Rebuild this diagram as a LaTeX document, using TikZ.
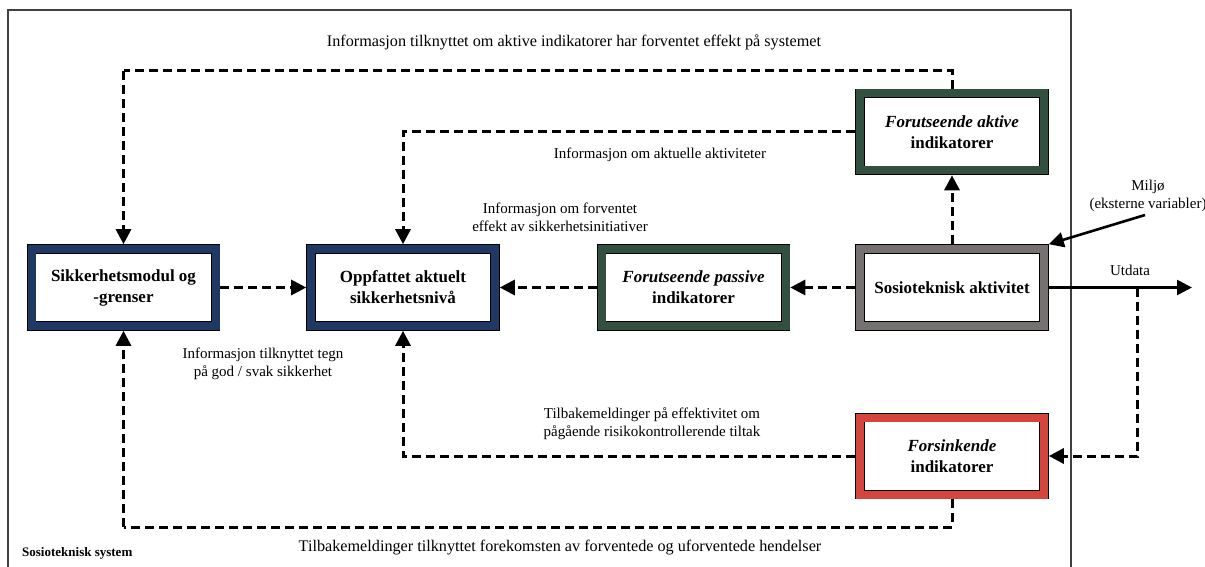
\documentclass[tikz,border=0pt]{standalone}
\usepackage{fontspec}
\setmainfont{Liberation Serif}
\usetikzlibrary{arrows.meta,calc}

\definecolor{navyband}{HTML}{1F3864}
\definecolor{greenband}{HTML}{31503F}
\definecolor{greyband}{HTML}{767171}
\definecolor{redband}{HTML}{D4463D}
\definecolor{framegrey}{HTML}{404040}

\tikzset{
  indbox/.style={rectangle, draw=black, line width=0.8pt, double=#1,
    double distance=8pt, fill=white, minimum width=184pt, minimum height=77pt,
    outer sep=4.8pt, inner sep=2pt, align=center,
    font=\fontsize{17}{21}\selectfont\bfseries},
  flow/.style={line width=3pt, dash pattern=on 9pt off 5pt,
    -{Triangle[length=15pt,width=15pt]}},
  flowplain/.style={line width=3pt, dash pattern=on 9pt off 5pt},
  solidarrow/.style={line width=2.6pt, -{Triangle[length=15pt,width=15pt]}},
  lbl/.style={font=\fontsize{15}{18}\selectfont, align=center, inner sep=0pt},
  widelbl/.style={font=\fontsize{16.2}{19}\selectfont, align=center, inner sep=0pt},
}

\begin{document}
\begin{tikzpicture}[x=1pt,y=-1pt]
  \useasboundingbox (0,0) rectangle (1205,567);
  \clip (0,0) rectangle (1205,567);

  % system boundary
  \draw[framegrey, line width=1.8pt] (8,600) -- (8,10) -- (1071,10) -- (1071,600);

  % blocks
  \node[indbox=navyband]  (smg)  at (123.5,287.5) {Sikkerhetsmodul og\\-grenser};
  \node[indbox=navyband]  (opp)  at (403,287.5)   {Oppfattet aktuelt\\sikkerhetsnivå};
  \node[indbox=greenband] (fp)   at (693.5,287.5) {\textit{Forutseende passive}\\indikatorer};
  \node[indbox=greyband]  (sa)   at (952,287.5)   {Sosioteknisk aktivitet};
  \node[indbox=greenband] (fa)   at (952,132)     {\textit{Forutseende aktive}\\indikatorer};
  \node[indbox=redband]   (fors) at (952,456)     {\textit{Forsinkende}\\indikatorer};

  % helper points
  \coordinate (toprail) at (0,71);
  \coordinate (botrail) at (0,527);
  \coordinate (tap)     at (1137,287.5);
  \coordinate (utend)   at (1192,287.5);
  \coordinate (env)     at (1145,215);

  % feedback and information flows
  \draw[flowplain] (fa.north) -- (fa.north |- toprail) -- (smg.north |- toprail);
  \draw[flow] (smg.north |- toprail) -- (smg.north);
  \draw[flow] (fa.west) -| (opp.north);
  \draw[flow] (sa.north) -- (fa.south);
  \draw[flow] (sa.west) -- (fp.east);
  \draw[flow] (fp.west) -- (opp.east);
  \draw[flow] (smg.east) -- (opp.west);
  \draw[flow] (tap) |- (fors.east);
  \draw[flow] (fors.west) -| (opp.south);
  \draw[flowplain] (fors.south) -- (fors.south |- botrail) -- (smg.south |- botrail);
  \draw[flow] (smg.south |- botrail) -- (smg.south);

  % output and environment
  \draw[solidarrow] (sa.east) -- (utend);
  \draw[solidarrow] (env) -- (sa.north east);

  % labels
  \node[widelbl] (l1) at (574,42)  {Informasjon tilknyttet om aktive indikatorer har forventet effekt på systemet};
  \node[lbl] (l2) at (660,155) {Informasjon om aktuelle aktiviteter};
  \node[lbl] (l3) at (560,217) {Informasjon om forventet\\effekt av sikkerhetsinitiativer};
  \node[lbl] (l4) at (263,364) {Informasjon tilknyttet tegn\\på god / svak sikkerhet};
  \node[lbl] (l5) at (652,424) {Tilbakemeldinger på effektivitet om\\pågående risikokontrollerende tiltak};
  \node[widelbl] (l6) at (560,548) {Tilbakemeldinger tilknyttet forekomsten av forventede og uforventede hendelser};
  \node[lbl] (l7) at (1130,270) {Utdata};
  \node[lbl] (l8) at (1148,196) {Miljø\\(eksterne variabler)};
  \node[font=\fontsize{13}{15}\selectfont\bfseries, anchor=west, inner sep=0pt] (sys) at (22,553) {Sosioteknisk system};
\end{tikzpicture}
\end{document}
